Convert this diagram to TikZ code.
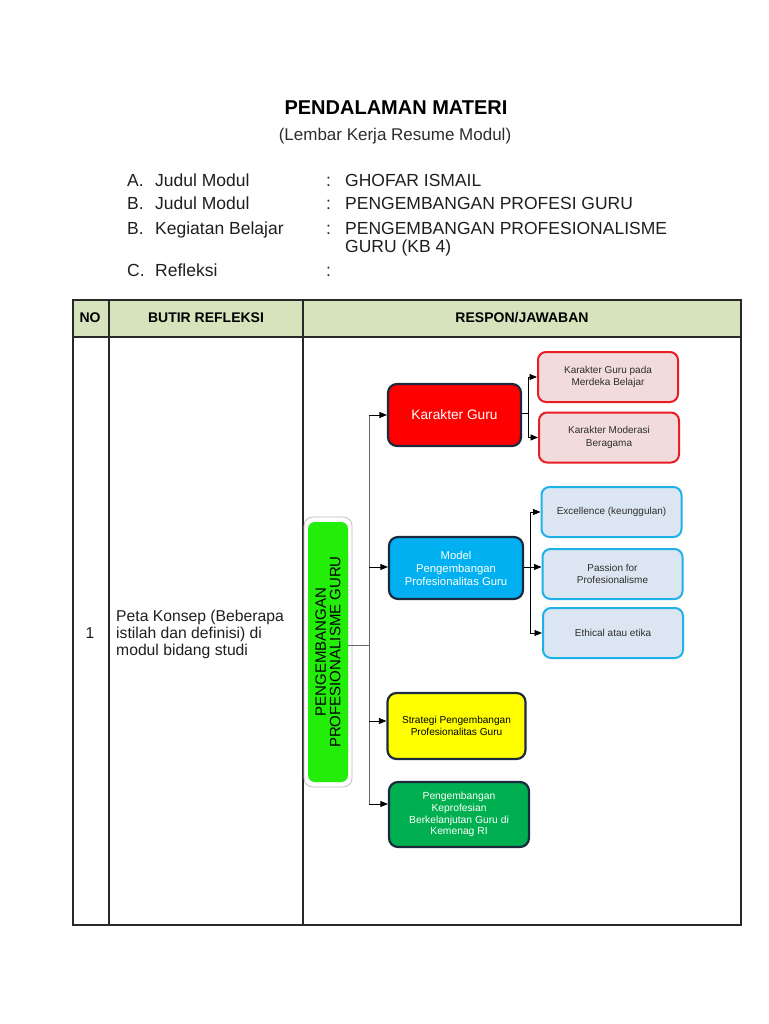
\documentclass[tikz,border=0pt]{standalone}
\usepackage{fontspec}
\setmainfont{Liberation Sans}
\usetikzlibrary{arrows.meta,calc}
\definecolor{hdr}{RGB}{214,227,188}
\definecolor{navy}{RGB}{28,42,62}
\definecolor{redfill}{RGB}{255,0,0}
\definecolor{pinkfill}{RGB}{242,220,219}
\definecolor{redline}{RGB}{232,30,36}
\definecolor{bluefill}{RGB}{0,176,240}
\definecolor{palefill}{RGB}{220,230,242}
\definecolor{blueline}{RGB}{30,178,232}
\definecolor{yelfill}{RGB}{255,255,0}
\definecolor{dkgreen}{RGB}{0,176,80}
\definecolor{brgreen}{RGB}{34,238,10}
\definecolor{tblline}{RGB}{40,40,40}
\definecolor{txtgray}{RGB}{45,45,45}
\begin{document}
\begin{tikzpicture}[x=1pt,y=-1pt,
  plain/.style={inner sep=0pt, text=black},
  mainbox/.style={draw=navy, line width=2.2pt, rounded corners=9pt, align=center, inner sep=2pt},
  subred/.style={draw=redline, fill=pinkfill, line width=2pt, rounded corners=8pt, align=center, inner sep=2pt,
     minimum width=140pt, minimum height=50pt, text=txtgray, font=\fontsize{10}{12.5}\selectfont},
  subblue/.style={draw=blueline, fill=palefill, line width=2pt, rounded corners=8pt, align=center, inner sep=2pt,
     minimum width=140pt, minimum height=50pt, text=txtgray, font=\fontsize{10}{12.5}\selectfont},
  arr/.style={-{Triangle[length=7.5pt,width=6pt]}, line width=0.8pt, black},
  conn/.style={line width=0.8pt, black},
  trunk/.style={line width=1pt, black!60},
  tbl/.style={line width=1.3pt, tblline}
]
\useasboundingbox (0,0) rectangle (768,1024);
\fill[white] (0,0) rectangle (768,1024);

% ---------- heading ----------
\node[plain, anchor=base, font=\bfseries\fontsize{20}{24}\selectfont] (title) at (396,115) {PENDALAMAN MATERI};
\node[plain, anchor=base, font=\fontsize{17}{20}\selectfont, text=txtgray] (subtitle) at (395,141) {(Lembar Kerja Resume Modul)};

\tikzset{item/.style={plain, anchor=base west, font=\fontsize{17.5}{20}\selectfont, text=black!88}}
\node[item] (a1) at (127,187) {A.};
\node[item] (a2) at (155,187) {Judul Modul};
\node[item] (a3) at (326,187) {:};
\node[item] (a4) at (345,187) {GHOFAR ISMAIL};
\node[item] (b1) at (127,210) {B.};
\node[item] (b2) at (155,210) {Judul Modul};
\node[item] (b3) at (326,210) {:};
\node[item] (b4) at (345,210) {PENGEMBANGAN PROFESI GURU};
\node[item] (c1) at (127,234) {B.};
\node[item] (c2) at (155,234) {Kegiatan Belajar};
\node[item] (c3) at (326,234) {:};
\node[item] (c4) at (345,234) {PENGEMBANGAN PROFESIONALISME};
\node[item] (c5) at (345,252) {GURU (KB 4)};
\node[item] (d1) at (127,276) {C.};
\node[item] (d2) at (155,276) {Refleksi};
\node[item] (d3) at (326,276) {:};

% ---------- table ----------
\fill[hdr] (73,300) rectangle (741,337);
\draw[tbl] (73,300) rectangle (741,925);
\draw[tbl] (73,337) -- (741,337);
\draw[tbl] (109,300) -- (109,925);
\draw[tbl] (303,300) -- (303,925);

\tikzset{hd/.style={plain, anchor=base, font=\bfseries\fontsize{14}{16}\selectfont}}
\node[hd] (hno) at (90,322) {NO};
\node[hd] (hbutir) at (206,322) {BUTIR REFLEKSI};
\node[hd] (hresp) at (522,322) {RESPON/JAWABAN};

\node[plain, anchor=base, font=\fontsize{15.7}{17}\selectfont, text=black!88] (no1) at (90,638) {1};
\node[plain, anchor=west, align=left, font=\fontsize{15.7}{17}\selectfont, text=black!88] (butir1) at (116,634.5)
  {Peta Konsep (Beberapa\\istilah dan definisi) di\\modul bidang studi};

% ---------- concept map ----------
% green vertical box
\draw[fill=white, draw=black!25, line width=0.8pt, rounded corners=9pt] (304,517) rectangle (352,787);
\node[rotate=90, fill=brgreen, rounded corners=7pt, minimum width=260pt, minimum height=40pt, inner sep=0pt,
  align=center, font=\fontsize{15}{14.5}\selectfont] (root) at (328,652) {PENGEMBANGAN\\PROFESIONALISME GURU};

% main boxes
\node[mainbox, fill=redfill, minimum width=133pt, minimum height=62pt, text=white, font=\fontsize{13.7}{16}\selectfont]
  (kg) at (454.5,415) {Karakter Guru};
\node[mainbox, fill=bluefill, minimum width=134pt, minimum height=62pt, text=white, font=\fontsize{11.3}{13}\selectfont]
  (model) at (456,568) {Model\\Pengembangan\\Profesionalitas Guru};
\node[mainbox, fill=yelfill, minimum width=138pt, minimum height=66pt, text=black, font=\fontsize{10.1}{12}\selectfont]
  (strat) at (456.5,726) {Strategi Pengembangan\\Profesionalitas Guru};
\node[mainbox, fill=dkgreen, minimum width=140pt, minimum height=65pt, text=white, font=\fontsize{10.3}{11.8}\selectfont]
  (pkb) at (459,814.5) {Pengembangan\\Keprofesian\\Berkelanjutan Guru di\\Kemenag RI};

% sub boxes
\node[subred] (kg1) at (608,377) {Karakter Guru pada\\Merdeka Belajar};
\node[subred] (kg2) at (609,437.5) {Karakter Moderasi\\Beragama};
\node[subblue] (ex) at (611.5,512) {Excellence (keunggulan)};
\node[subblue] (pas) at (612.5,574) {Passion for\\Profesionalisme};
\node[subblue] (eth) at (613,633) {Ethical atau etika};

% trunk connectors
\coordinate (tA) at (369,415);
\coordinate (tB) at (369,567);
\coordinate (tC) at (369,721);
\coordinate (tD) at (369,804);
\coordinate (tG) at (369,645);
\draw[trunk] (tA) -- (tD);
\draw[trunk] (root.south |- tG) -- (tG);
\draw[arr] (tA) -- (kg.west |- tA);
\draw[arr] (tB) -- (model.west |- tB);
\draw[arr] (tC) -- (strat.west |- tC);
\draw[arr] (tD) -- (pkb.west |- tD);

% karakter guru branches
\coordinate (kj) at (528,413);
\draw[conn] (kg.east |- kj) -- (kj);
\draw[conn] (kj |- kg1.west) -- (kj |- kg2.west);
\draw[arr] (kj |- kg1.west) -- (kg1.west);
\draw[arr] (kj |- kg2.west) -- (kg2.west);

% model branches
\coordinate (mj) at (530,567);
\draw[conn] (model.east |- mj) -- (mj);
\draw[conn] (mj |- ex.west) -- (mj |- eth.west);
\draw[arr] (mj |- ex.west) -- (ex.west);
\draw[arr] (mj) -- (pas.west |- mj);
\draw[arr] (mj |- eth.west) -- (eth.west);
\end{tikzpicture}
\end{document}
